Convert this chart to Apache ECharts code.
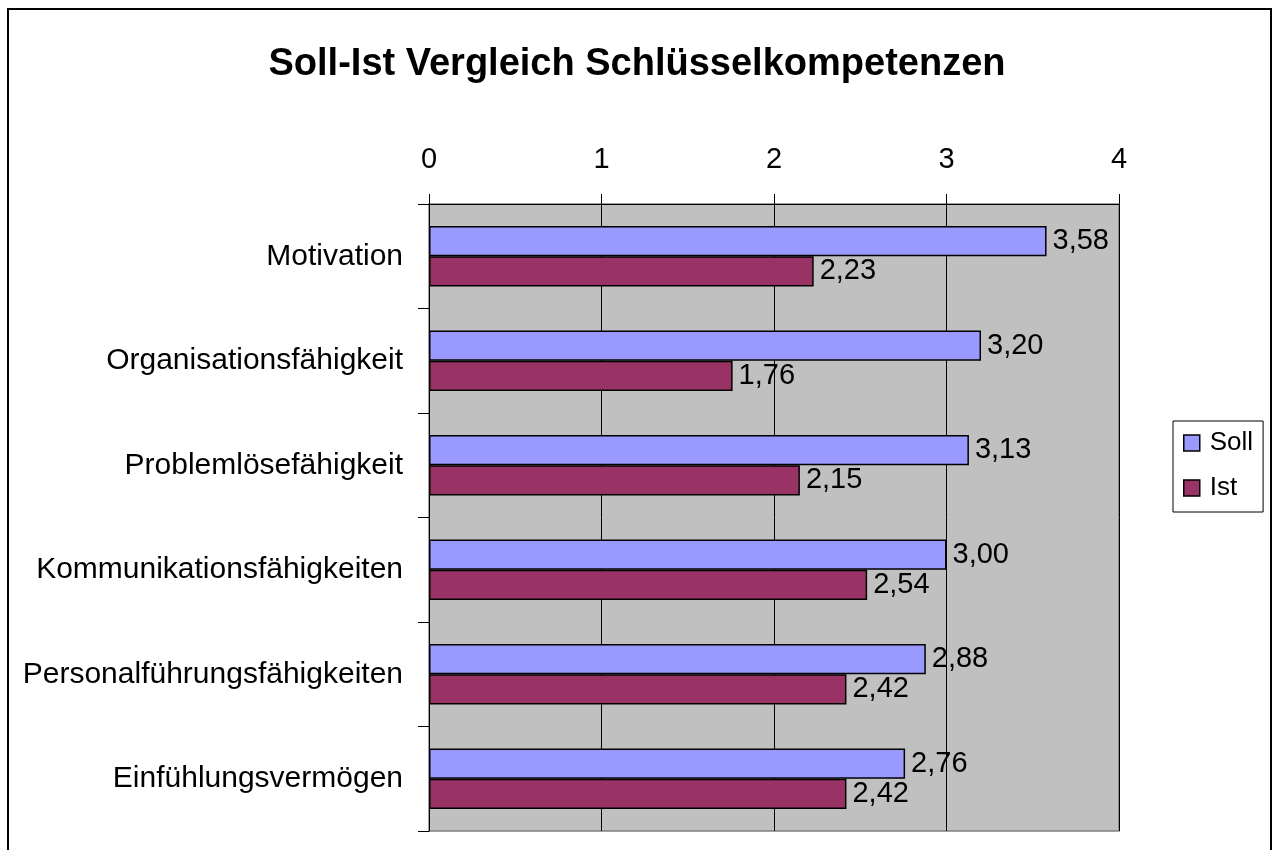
<!DOCTYPE html>
<html><head><meta charset="utf-8">
<script src="https://cdn.jsdelivr.net/npm/echarts@6/dist/echarts.min.js"></script>
<style>html,body{margin:0;padding:0;background:#fff}#c{width:1274px;height:850px}</style>
</head><body><div id="c"></div>
<script>
const categories = ['Motivation','Organisationsfähigkeit','Problemlösefähigkeit','Kommunikationsfähigkeiten','Personalführungsfähigkeiten','Einfühlungsvermögen'];
const sollValues = [3.58, 3.20, 3.13, 3.00, 2.88, 2.76];
const istValues = [2.23, 1.76, 2.15, 2.54, 2.42, 2.42];
const xTicks = [0, 1, 2, 3, 4];

const chart = echarts.init(document.getElementById('c'));
const fmt = p => p.value.toFixed(2).replace('.', ',');
const font = '"Liberation Sans", Arial, sans-serif';
chart.setOption({
  animation: false,
  textStyle: { fontFamily: font },
  title: { text: 'Soll-Ist Vergleich Schlüsselkompetenzen', left: 'center', top: 41,
    textStyle: { fontFamily: font, fontSize: 38, fontWeight: 'bold', color: '#000' } },
  graphic: [{ type: 'rect', shape: { x: 8, y: 9, width: 1263, height: 900 },
    style: { fill: 'none', stroke: '#000', lineWidth: 2 }, z: -10 }],
  legend: { orient: 'vertical', left: 1173, top: 421, icon: 'rect', itemWidth: 16, itemHeight: 16, itemGap: 19,
    padding: [9, 10, 11, 10], borderColor: '#000', borderWidth: 1,
    textStyle: { fontFamily: font, fontSize: 26, color: '#000', padding: [0, 0, 0, 5] },
    data: [{ name: 'Soll', itemStyle: { borderColor: '#000', borderWidth: 1.5 } }, { name: 'Ist', itemStyle: { borderColor: '#000', borderWidth: 1.5 } }] },
  grid: { left: 429, top: 204, width: 690, height: 627, show: true, backgroundColor: '#c0c0c0', borderColor: '#808080', borderWidth: 1.5 },
  xAxis: { type: 'value', position: 'top', min: 0, max: 4, interval: 1,
    axisLine: { show: true, lineStyle: { color: '#000', width: 1 } },
    axisTick: { show: true, length: 10, lineStyle: { color: '#000' } },
    splitLine: { show: true, lineStyle: { color: '#000', width: 1 } },
    axisLabel: { fontSize: 29, color: '#000', margin: 30, fontFamily: font,
      formatter: v => xTicks.includes(v) ? String(v) : '' } },
  yAxis: { type: 'category', data: categories, inverse: true,
    axisLine: { show: true, lineStyle: { color: '#000', width: 1 } },
    axisTick: { show: true, length: 11, lineStyle: { color: '#000' } },
    axisLabel: { fontSize: 30, color: '#000', margin: 26, fontFamily: font, padding: [4, 0, 0, 0] } },
  series: [
    { name: 'Soll', type: 'bar', data: sollValues, barGap: '0%', barCategoryGap: '42%',
      itemStyle: { color: '#9999FF', borderColor: '#000', borderWidth: 1.5 },
      label: { show: true, position: 'right', formatter: fmt, fontSize: 29, color: '#000', fontFamily: font, distance: 6 } },
    { name: 'Ist', type: 'bar', data: istValues,
      itemStyle: { color: '#993366', borderColor: '#000', borderWidth: 1.5 },
      label: { show: true, position: 'right', formatter: fmt, fontSize: 29, color: '#000', fontFamily: font, distance: 6 } }
  ]
});
</script></body></html>
